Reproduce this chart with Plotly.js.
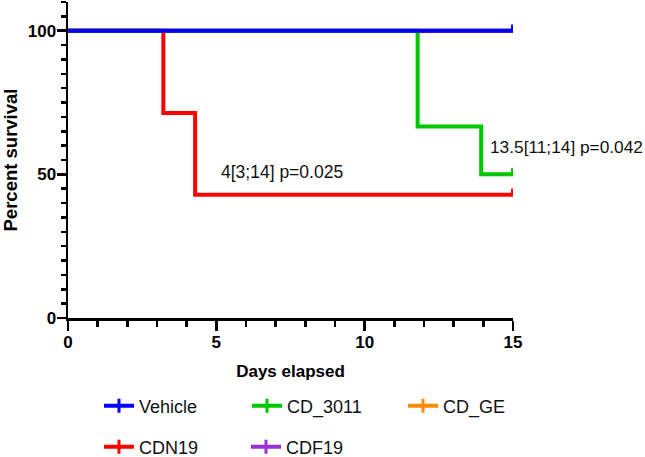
<!DOCTYPE html>
<html>
<head>
<meta charset="utf-8">
<script src="https://cdn.plot.ly/plotly-3.0.1.min.js"></script>
<style>
  html, body { margin: 0; padding: 0; background: #fff; }
  #chart { width: 645px; height: 457px; }
</style>
</head>
<body>
<div id="chart"></div>
<script>
// ---- data (Kaplan-Meier steps) ----
const groupNames = ['Vehicle', 'CD_3011', 'CD_GE', 'CDN19', 'CDF19'];
const groupColors = ['#0000ff', '#00c800', '#ff8c00', '#ff0000', '#9b30d9'];

const vehicleDays = [0, 14];
const vehicleSurv = [100, 100];

const cd3011Days = [0, 11, 13, 14];
const cd3011Surv = [100, 66.7, 50, 50];

const cdgeDays = [0, 14];
const cdgeSurv = [100, 100];

const cdn19Days = [0, 3, 4, 14];
const cdn19Surv = [100, 71.4, 42.9, 42.9];

const cdf19Days = [0, 14];
const cdf19Surv = [100, 100];

const censorDay = 14;

const xTickLabels = [0, 5, 10, 15];
const yTickLabels = [0, 50, 100];

const annotationTexts = ['4[3;14] p=0.025', '13.5[11;14] p=0.042'];

// ---- styling / helpers ----
const FONT = 'Liberation Sans, Arial, sans-serif';
const censorTick = 2.1;              // height of the censor tick (percent units)
const labelToDay = 14 / 15;          // the printed day labels sit on this scale

function kmTrace(days, surv, color, name) {
  const x = days.slice();
  const y = surv.slice();
  x.push(censorDay);
  y.push(surv[surv.length - 1] + censorTick);
  return {
    type: 'scatter', mode: 'lines', name: name,
    x: x, y: y,
    line: { color: color, width: 4, shape: 'hv' },
    showlegend: false, hoverinfo: 'skip', cliponaxis: false
  };
}

function legendTrace(i, legendId, width) {
  return {
    type: 'scatter', mode: 'lines+markers', name: groupNames[i],
    x: [null], y: [null],
    line: { color: groupColors[i], width: 4 },
    marker: { symbol: 'line-ns', size: 10, color: groupColors[i],
              line: { width: 3, color: groupColors[i] } },
    legend: legendId, legendwidth: width, showlegend: true
  };
}

const traces = [
  kmTrace(cdgeDays, cdgeSurv, groupColors[2], groupNames[2]),
  kmTrace(cdf19Days, cdf19Surv, groupColors[4], groupNames[4]),
  kmTrace(cdn19Days, cdn19Surv, groupColors[3], groupNames[3]),
  kmTrace(cd3011Days, cd3011Surv, groupColors[1], groupNames[1]),
  kmTrace(vehicleDays, vehicleSurv, groupColors[0], groupNames[0]),
  legendTrace(0, 'legend', 103),
  legendTrace(1, 'legend', 111),
  legendTrace(2, 'legend', 60),
  legendTrace(3, 'legend2', 102),
  legendTrace(4, 'legend2', 60)
];

const axisCommon = {
  showline: true, linecolor: '#000', linewidth: 2.5,
  ticks: 'outside', tickcolor: '#000', tickwidth: 2.5,
  showgrid: false, zeroline: false, automargin: false,
  ticklabelstandoff: -3,
  tickfont: { family: FONT, size: 17, color: '#000', weight: 'bold' }
};

const legendCommon = {
  orientation: 'h', xanchor: 'left', yanchor: 'middle',
  xref: 'container', yref: 'container',
  font: { family: FONT, size: 18, color: '#111' },
  bgcolor: 'rgba(0,0,0,0)', borderwidth: 0, itemwidth: 30,
  entrywidthmode: 'pixels'
};

const layout = {
  width: 645, height: 457,
  margin: { l: 68, r: 132, t: 2, b: 139 },
  paper_bgcolor: '#fff', plot_bgcolor: '#fff',
  showlegend: true,
  xaxis: Object.assign({}, axisCommon, {
    range: [0, 14],
    tickmode: 'array',
    tickvals: xTickLabels.map(v => v * labelToDay),
    ticktext: xTickLabels.map(String),
    ticklen: 10,
    minor: { ticks: 'outside', tick0: 0, dtick: labelToDay, ticklen: 6,
             tickwidth: 2.5, tickcolor: '#000' },
    title: { text: 'Days elapsed', standoff: 14,
             font: { family: FONT, size: 17, color: '#000', weight: 'bold' } }
  }),
  yaxis: Object.assign({}, axisCommon, {
    range: [0, 110],
    tickmode: 'array',
    tickvals: yTickLabels,
    ticktext: yTickLabels.map(String),
    ticklen: 9,
    minor: { ticks: 'outside', tick0: 0, dtick: 5, ticklen: 5,
             tickwidth: 2.5, tickcolor: '#000' },
    title: { text: 'Percent survival', standoff: 9,
             font: { family: FONT, size: 18.5, color: '#000', weight: 'bold' } }
  }),
  legend: Object.assign({}, legendCommon, { x: 99 / 645, y: 1 - 406 / 457 }),
  legend2: Object.assign({}, legendCommon, { x: 99 / 645, y: 1 - 447 / 457 }),
  annotations: [
    { text: annotationTexts[0], xref: 'x', yref: 'y', x: 4.75, y: 50.8,
      xanchor: 'left', yanchor: 'middle', showarrow: false,
      font: { family: FONT, size: 17.5, color: '#111' } },
    { text: annotationTexts[1], xref: 'x', yref: 'y', x: 13.22, y: 59.5,
      xanchor: 'left', yanchor: 'middle', showarrow: false,
      font: { family: FONT, size: 17.3, color: '#111' } }
  ]
};

Plotly.newPlot('chart', traces, layout, { displayModeBar: false, staticPlot: true });
</script>
</body>
</html>
